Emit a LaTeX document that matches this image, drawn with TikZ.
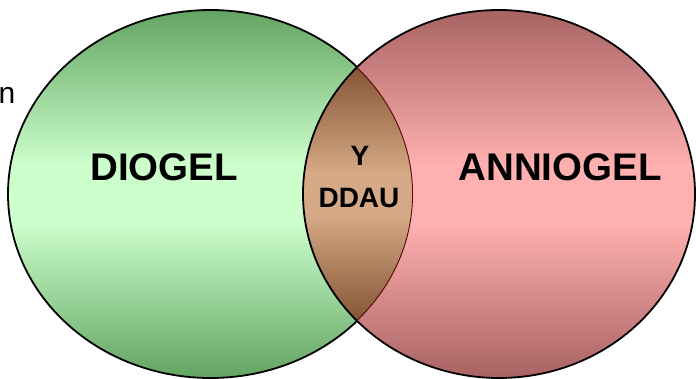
\documentclass[tikz,border=0pt]{standalone}
\usepackage{fontspec}
\setmainfont{Liberation Sans}
\definecolor{gdark}{HTML}{62A462}
\definecolor{glight}{HTML}{CCFFCC}
\definecolor{rdark}{HTML}{A86262}
\definecolor{rlight}{HTML}{FFB0B0}
\definecolor{bdark}{HTML}{835434}
\definecolor{blight}{HTML}{D6AA86}
\definecolor{lensedge}{HTML}{5A0A0A}
\pgfdeclareverticalshading{greenv}{100bp}{color(0bp)=(gdark); color(25bp)=(gdark); color(46bp)=(glight); color(54bp)=(glight); color(75bp)=(gdark); color(100bp)=(gdark)}
\pgfdeclareverticalshading{redv}{100bp}{color(0bp)=(rdark); color(25bp)=(rdark); color(46bp)=(rlight); color(54bp)=(rlight); color(75bp)=(rdark); color(100bp)=(rdark)}
\pgfdeclareverticalshading{brownv}{100bp}{color(0bp)=(bdark); color(25bp)=(bdark); color(46bp)=(blight); color(54bp)=(blight); color(75bp)=(bdark); color(100bp)=(bdark)}
\tikzset{
  biglabel/.style={font=\bfseries\fontsize{38.5}{40}\selectfont, inner sep=0pt, anchor=base},
  smalllabel/.style={font=\bfseries\fontsize{28}{30}\selectfont, inner sep=0pt, anchor=base},
  outline/.style={line width=1.8pt, draw=black}
}
\begin{document}
\begin{tikzpicture}[x=1pt,y=1pt]
\useasboundingbox (0,0) rectangle (696,-378);
% left (green) set
\shade[shading=greenv]
  (210.5,-194) ellipse [x radius=202.5pt, y radius=184pt];
% right (red) set
\shade[shading=redv]
  (499,-194) ellipse [x radius=196pt, y radius=184pt];
% overlap
\begin{scope}
  \clip (210.5,-194) ellipse [x radius=202.5pt, y radius=184pt];
  \clip (499,-194) ellipse [x radius=196pt, y radius=184pt];
  \shade[shading=brownv]
    (290,-66) rectangle (425,-322);
  \draw[line width=1.8pt, draw=lensedge] (210.5,-194) ellipse [x radius=202.5pt, y radius=184pt];
\end{scope}
% outlines
\begin{scope}[even odd rule]
  \clip (499,-194) ellipse [x radius=196pt, y radius=184pt] (-10,10) rectangle (706,-388);
  \draw[outline] (210.5,-194) ellipse [x radius=202.5pt, y radius=184pt];
\end{scope}
\draw[outline] (499,-194) ellipse [x radius=196pt, y radius=184pt];
% labels
\node[biglabel] (diogel) at (164,-180) {DIOGEL};
\node[biglabel] (anniogel) at (560,-180) {ANNIOGEL};
\node[smalllabel] (y) at (360,-165) {Y};
\node[smalllabel] (ddau) at (359,-207) {DDAU};
\node[font=\fontsize{30}{32}\selectfont, inner sep=0pt, anchor=base east] (n) at (15.5,-103) {n};
\end{tikzpicture}
\end{document}
